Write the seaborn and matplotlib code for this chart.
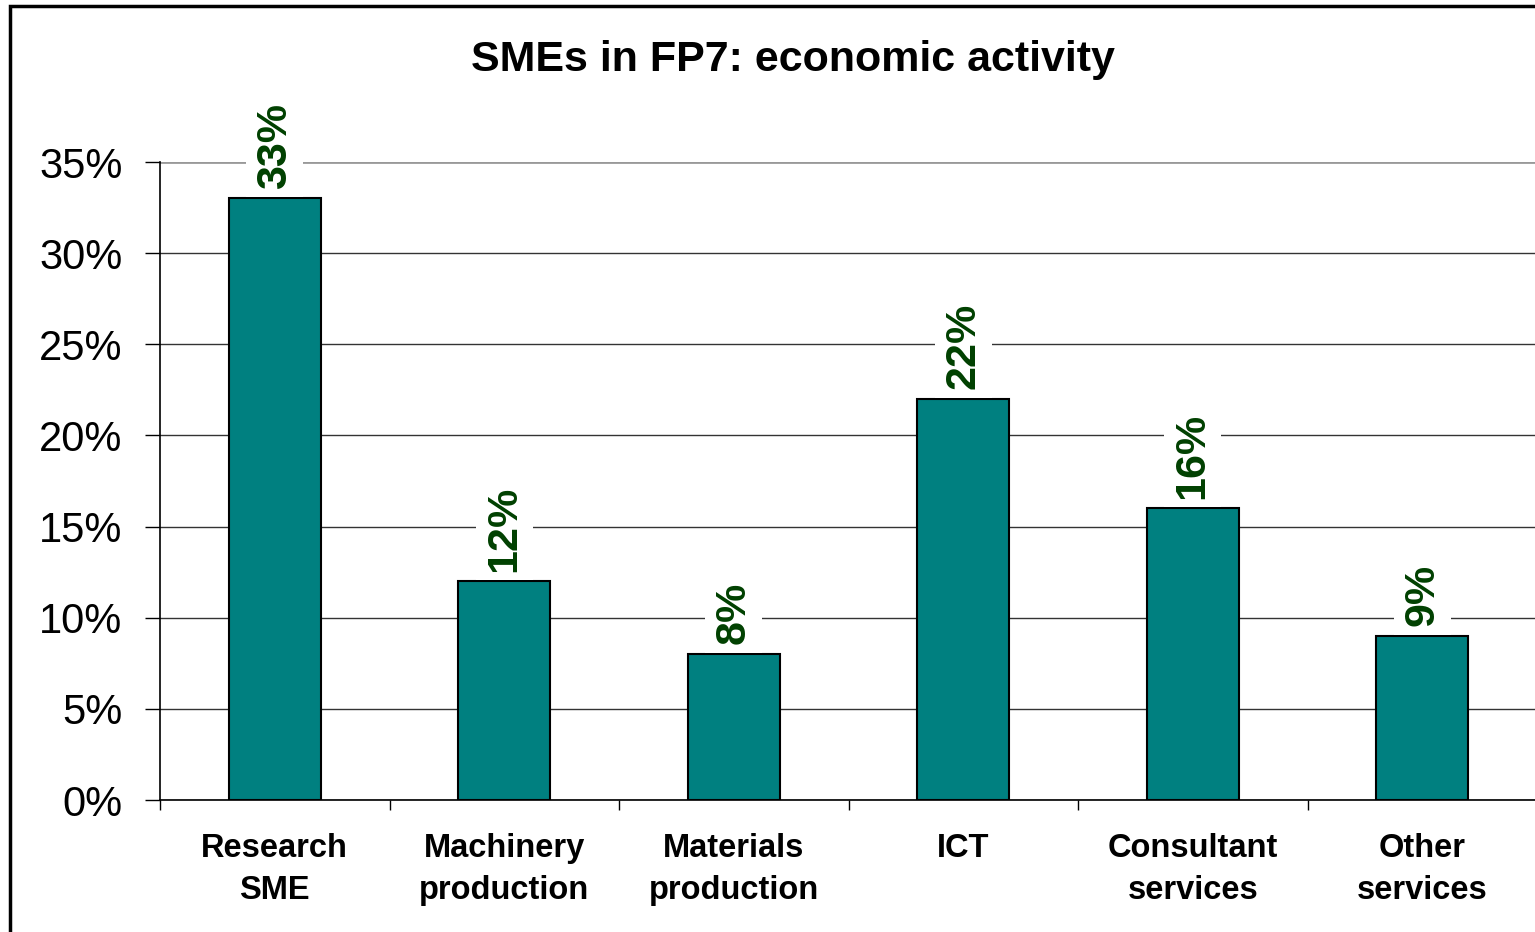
import numpy as np
import matplotlib
matplotlib.use("Agg")
import matplotlib.pyplot as plt
import seaborn as sns
import pandas as pd
from matplotlib.ticker import PercentFormatter, FixedLocator
from matplotlib.patches import Rectangle

categories = ["Research\nSME", "Machinery\nproduction", "Materials\nproduction",
              "ICT", "Consultant\nservices", "Other\nservices"]
shares = [0.33, 0.12, 0.08, 0.22, 0.16, 0.09]
y_ticks = [0.0, 0.05, 0.10, 0.15, 0.20, 0.25, 0.30, 0.35]

sns.set_theme(style="white")
plt.rcParams["font.family"] = ["Liberation Sans", "DejaVu Sans"]

df = pd.DataFrame({"activity": categories, "share": shares})

fig = plt.figure(figsize=(15.35, 9.32), dpi=100)
ax = fig.add_axes([160 / 1535, 1 - 800 / 932, (1537 - 160) / 1535, (800 - 162) / 932])

sns.barplot(data=df, x="activity", y="share", ax=ax, color="#008080",
            width=0.4, edgecolor="black", linewidth=1.5, saturation=1)

ax.set_xlim(-0.5, len(categories) - 0.5)
ax.set_ylim(0, 0.35)
ax.set_yticks(y_ticks)
ax.yaxis.set_major_formatter(PercentFormatter(1.0, decimals=0))
ax.tick_params(axis="y", labelsize=30, length=11, width=1, color="black",
               direction="out", left=True, pad=16, labelcolor="black")
ax.xaxis.set_minor_locator(FixedLocator(np.arange(-0.5, len(categories), 1.0)))
ax.tick_params(axis="x", which="major", length=0, pad=24)
ax.tick_params(axis="x", which="minor", length=7, width=1, color="black",
               direction="out", bottom=True)
for lab in ax.get_xticklabels():
    lab.set_fontsize(23.5)
    lab.set_fontweight("bold")
    lab.set_linespacing(1.45)
    lab.set_color("black")

ax.set_xlabel("")
ax.set_ylabel("")

ax.yaxis.grid(True, color="#333333", linewidth=1)
ax.set_axisbelow(True)
ax.get_ygridlines()[-1].set_color("#999999")
ax.get_ygridlines()[-1].set_linewidth(2)

for side in ["top", "right"]:
    ax.spines[side].set_visible(False)
for side in ["left", "bottom"]:
    ax.spines[side].set_color("black")
    ax.spines[side].set_linewidth(1.2)

for i, v in enumerate(shares):
    ax.annotate(f"{v:.0%}", xy=(i, v), xytext=(0, 7), textcoords="offset points",
                rotation=90, ha="center", va="bottom", fontsize=31,
                fontweight="bold", color="#004000",
                bbox=dict(boxstyle="square,pad=0.2", fc="white", ec="none"))

fig.text(0.5166, 1 - 60 / 932, "SMEs in FP7: economic activity", ha="center",
         va="center", fontsize=31, fontweight="bold", color="black")

fig.patches.append(Rectangle((10 / 1535, -0.05), 1.2, 1 - 6 / 932 + 0.05,
                             transform=fig.transFigure, fill=False,
                             edgecolor="black", linewidth=2.5))

fig.savefig("out.png", dpi=100)
